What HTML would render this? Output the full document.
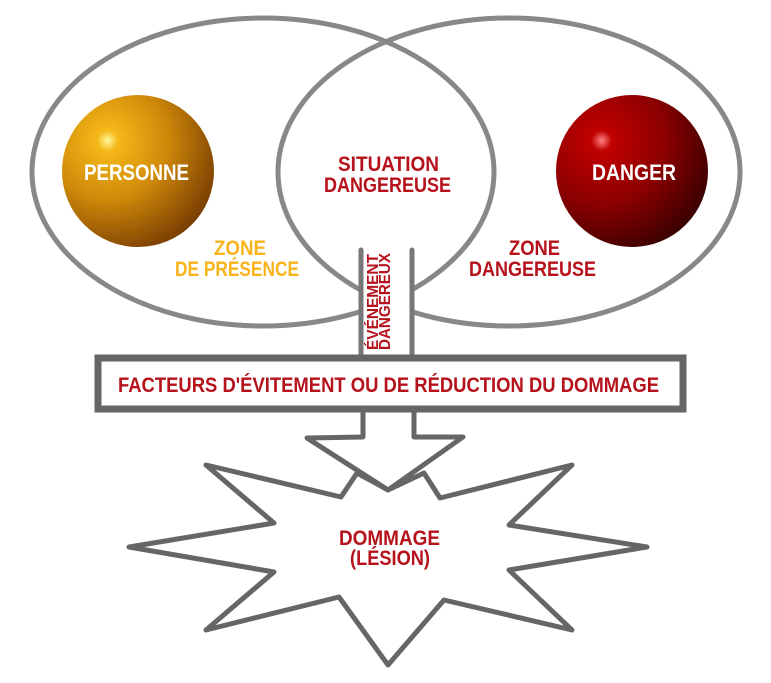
<!DOCTYPE html>
<html><head><meta charset="utf-8">
<style>
html,body{margin:0;padding:0;background:#fff;}
svg{display:block;}
text{font-family:"Liberation Sans Narrow","Liberation Sans",sans-serif;font-weight:bold;}
</style></head>
<body>
<svg width="771" height="683" viewBox="0 0 771 683" xmlns="http://www.w3.org/2000/svg">
<defs>
<radialGradient id="og" cx="0.3" cy="0.3" r="0.85">
<stop offset="0" stop-color="#fff8a0"/>
<stop offset="0.08" stop-color="#f5b818"/>
<stop offset="0.45" stop-color="#d08a0a"/>
<stop offset="1" stop-color="#6a3000"/>
</radialGradient>
<radialGradient id="rg" cx="0.3" cy="0.3" r="0.85">
<stop offset="0" stop-color="#ff8080"/>
<stop offset="0.08" stop-color="#c00000"/>
<stop offset="0.5" stop-color="#8a0000"/>
<stop offset="1" stop-color="#2a0000"/>
</radialGradient>
</defs>
<g fill="none">
<ellipse cx="263" cy="172" rx="231" ry="154" stroke="#888" stroke-width="5"/>
<ellipse cx="509" cy="172" rx="231" ry="154" stroke="#888" stroke-width="5"/>
</g>
<ellipse cx="138" cy="171" rx="76" ry="76" fill="url(#og)"/>
<ellipse cx="632" cy="171" rx="76" ry="76" fill="url(#rg)"/>
<!-- shaft -->
<rect x="361" y="250" width="51" height="110" fill="#fff"/>
<line x1="361" y1="250" x2="361" y2="360" stroke="#777" stroke-width="5" stroke-linecap="round"/>
<line x1="412" y1="250" x2="412" y2="360" stroke="#777" stroke-width="5" stroke-linecap="round"/>
<!-- arrow -->
<polygon points="363,410 363,437 307,438 388,490 463,437 414,437 414,410" fill="#fff" stroke="#666" stroke-width="5" stroke-linejoin="round"/>
<!-- star -->
<polygon points="129,547 274,523 206,465 341,497 357,473 388,490 424,473 440,498 572,465 509,525 647,547 509,570 572,630 444,600 388,665 339,597 206,630 274,572" fill="#fff" stroke="#666" stroke-width="5" stroke-linejoin="round"/>
<!-- box -->
<rect x="98" y="358" width="585" height="51" fill="#fff" stroke="#666" stroke-width="7"/>
<!-- texts -->
<text x="84" y="180" font-size="22" fill="#fff" textLength="105" lengthAdjust="spacingAndGlyphs">PERSONNE</text>
<text x="592" y="180" font-size="22" fill="#fff" textLength="84" lengthAdjust="spacingAndGlyphs">DANGER</text>
<text x="338" y="171" font-size="21" fill="#b5121b" textLength="101" lengthAdjust="spacingAndGlyphs">SITUATION</text>
<text x="324" y="192" font-size="21" fill="#b5121b" textLength="127" lengthAdjust="spacingAndGlyphs">DANGEREUSE</text>
<text x="214" y="255" font-size="21" fill="#f9b31b" textLength="52" lengthAdjust="spacingAndGlyphs">ZONE</text>
<text x="175" y="276" font-size="21" fill="#f9b31b" textLength="124" lengthAdjust="spacingAndGlyphs">DE PRÉSENCE</text>
<text x="509" y="255" font-size="21" fill="#b5121b" textLength="51" lengthAdjust="spacingAndGlyphs">ZONE</text>
<text x="469" y="276" font-size="21" fill="#b5121b" textLength="127" lengthAdjust="spacingAndGlyphs">DANGEREUSE</text>
<g transform="translate(378,350) rotate(-90)">
<text x="0" y="0" font-size="16" fill="#b5121b" textLength="96" lengthAdjust="spacingAndGlyphs">ÉVÉNEMENT</text>
<text x="0" y="12" font-size="16" fill="#b5121b" textLength="97" lengthAdjust="spacingAndGlyphs">DANGEREUX</text>
</g>
<text x="118" y="392" font-size="21" fill="#b5121b" textLength="541" lengthAdjust="spacingAndGlyphs">FACTEURS D'ÉVITEMENT OU DE RÉDUCTION DU DOMMAGE</text>
<text x="339" y="545" font-size="21" fill="#b5121b" textLength="101" lengthAdjust="spacingAndGlyphs">DOMMAGE</text>
<text x="350" y="565" font-size="21" fill="#b5121b" textLength="80" lengthAdjust="spacingAndGlyphs">(LÉSION)</text>
</svg>
</body></html>
